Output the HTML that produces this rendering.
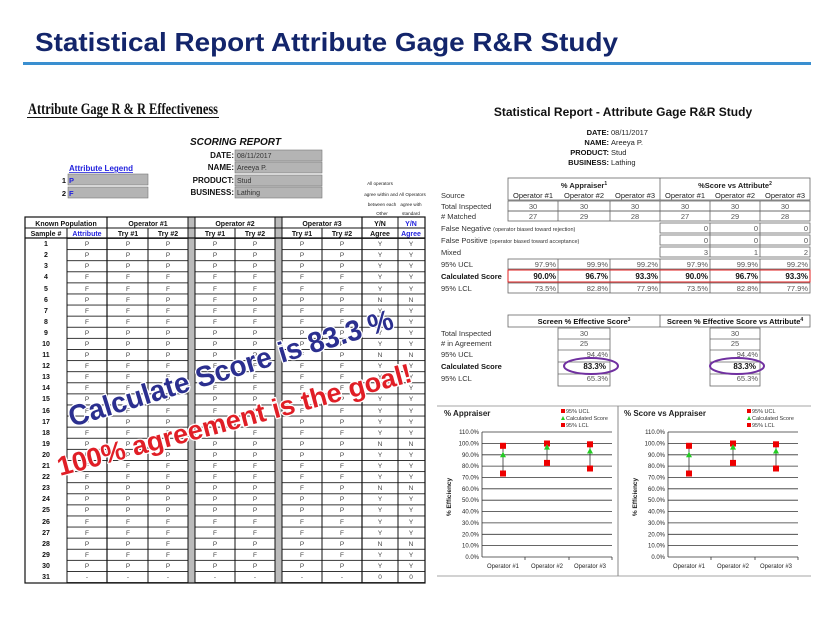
<!DOCTYPE html>
<html><head><meta charset="utf-8"><style>
html,body{margin:0;padding:0;background:#fff;}
svg{display:block;font-family:"Liberation Sans",sans-serif;}
</style></head><body>
<svg width="840" height="630" viewBox="0 0 840 630" xmlns="http://www.w3.org/2000/svg">
<defs>
<pattern id="hl" x="0" y="238" width="20" height="11.1" patternUnits="userSpaceOnUse"><rect x="0" y="0" width="20" height="0.9" fill="#222"/></pattern>
</defs>
<rect width="840" height="630" fill="#fff"/>
<!-- Title -->
<text x="35" y="51" font-size="26" font-weight="bold" fill="#13256b" textLength="583" lengthAdjust="spacingAndGlyphs">Statistical Report Attribute Gage R&amp;R Study</text>
<rect x="23" y="62" width="788" height="3" fill="#3a8fd0"/>

<!-- LEFT -->
<text x="28" y="114" font-family="Liberation Serif,serif" font-size="16" font-weight="bold" fill="#111" textLength="190" lengthAdjust="spacingAndGlyphs">Attribute Gage R &amp; R Effectiveness</text>
<rect x="27" y="117" width="192" height="1" fill="#111"/>
<text x="190" y="145" font-size="10" font-weight="bold" font-style="italic" fill="#111">SCORING REPORT</text>
<g font-size="8" font-weight="bold" fill="#111" text-anchor="end">
<text x="234" y="158">DATE:</text><text x="234" y="170">NAME:</text><text x="234" y="183">PRODUCT:</text><text x="234" y="195">BUSINESS:</text>
</g>
<g fill="#b4b4b4" stroke="#777" stroke-width="0.6">
<rect x="235" y="150" width="87" height="11"/><rect x="235" y="162" width="87" height="11"/><rect x="235" y="175" width="87" height="11"/><rect x="235" y="187" width="87" height="11"/>
<rect x="68" y="174" width="80" height="11"/><rect x="68" y="187" width="80" height="11"/>
</g>
<g font-size="7" fill="#333"><text x="237" y="158">08/11/2017</text><text x="237" y="170">Areeya P.</text><text x="237" y="183">Stud</text><text x="237" y="195">Lathing</text></g>
<text x="69" y="171" font-size="8" font-weight="bold" fill="#2222dd" text-decoration="underline">Attribute Legend</text>
<text x="66" y="183" font-size="7.5" font-weight="bold" fill="#111" text-anchor="end">1</text><text x="69" y="183" font-size="7.5" font-weight="bold" fill="#2222dd">P</text>
<text x="66" y="196" font-size="7.5" font-weight="bold" fill="#111" text-anchor="end">2</text><text x="69" y="196" font-size="7.5" font-weight="bold" fill="#2222dd">F</text>
<g font-size="4.6" fill="#222" text-anchor="middle">
<text x="380" y="185">All operators</text>
<text x="395" y="196">agree within and All Operators</text>
<text x="382" y="206">between each</text><text x="411" y="206">agree with</text>
<text x="382" y="215">Other</text><text x="411" y="215">standard</text>
</g>
<!-- table -->
<rect x="188" y="217" width="7" height="366" fill="#bbb"/>
<rect x="275" y="217" width="7" height="366" fill="#bbb"/>
<rect x="67" y="238" width="358" height="345" fill="url(#hl)"/>
<rect x="188" y="238" width="7" height="345" fill="#bbb"/><rect x="275" y="238" width="7" height="345" fill="#bbb"/>
<g stroke="#111" fill="none">
<rect x="25" y="217" width="400" height="366" stroke-width="1.2"/>
<line x1="25" y1="228" x2="425" y2="228" stroke-width="1"/>
<line x1="25" y1="238" x2="425" y2="238" stroke-width="1.2"/>
<line x1="67" y1="228" x2="67" y2="583"/>
<line x1="107" y1="217" x2="107" y2="583" stroke-width="1.2"/>
<line x1="148" y1="228" x2="148" y2="583"/>
<line x1="188" y1="217" x2="188" y2="583"/><line x1="195" y1="217" x2="195" y2="583"/>
<line x1="235" y1="228" x2="235" y2="583"/>
<line x1="275" y1="217" x2="275" y2="583"/><line x1="282" y1="217" x2="282" y2="583"/>
<line x1="322" y1="228" x2="322" y2="583"/>
<line x1="362" y1="217" x2="362" y2="583" stroke-width="1.2"/>
<line x1="398" y1="217" x2="398" y2="583"/>
</g>
<g font-size="7" font-weight="bold" fill="#111" text-anchor="middle">
<text x="66" y="226">Known Population</text><text x="148" y="226">Operator #1</text><text x="235" y="226">Operator #2</text><text x="322" y="226">Operator #3</text><text x="380" y="226">Y/N</text>
<text x="46" y="236">Sample #</text><text x="128" y="236">Try #1</text><text x="168" y="236">Try #2</text><text x="215" y="236">Try #1</text><text x="255" y="236">Try #2</text><text x="302" y="236">Try #1</text><text x="342" y="236">Try #2</text><text x="380" y="236">Agree</text>
</g>
<g font-size="7" font-weight="bold" fill="#2222dd" text-anchor="middle"><text x="87" y="236">Attribute</text><text x="411" y="226">Y/N</text><text x="411" y="236">Agree</text></g>
<g font-size="7" font-weight="bold" fill="#111" text-anchor="middle">
<text x="46" y="246">1</text><text x="46" y="257">2</text><text x="46" y="268">3</text><text x="46" y="279">4</text><text x="46" y="291">5</text><text x="46" y="302">6</text><text x="46" y="313">7</text><text x="46" y="324">8</text><text x="46" y="335">9</text><text x="46" y="346">10</text><text x="46" y="357">11</text><text x="46" y="368">12</text><text x="46" y="379">13</text><text x="46" y="390">14</text><text x="46" y="401">15</text><text x="46" y="413">16</text><text x="46" y="424">17</text><text x="46" y="435">18</text><text x="46" y="446">19</text><text x="46" y="457">20</text><text x="46" y="468">21</text><text x="46" y="479">22</text><text x="46" y="490">23</text><text x="46" y="501">24</text><text x="46" y="512">25</text><text x="46" y="524">26</text><text x="46" y="535">27</text><text x="46" y="546">28</text><text x="46" y="557">29</text><text x="46" y="568">30</text><text x="46" y="579">31</text>
</g>
<g font-size="6.5" fill="#444" text-anchor="middle">
<text x="87 128 168 215 255 302 342 380 411" y="246">PPPPPPPYY</text>
<text x="87 128 168 215 255 302 342 380 411" y="257">PPPPPPPYY</text>
<text x="87 128 168 215 255 302 342 380 411" y="268">PPPPPPPYY</text>
<text x="87 128 168 215 255 302 342 380 411" y="279">FFFFFFFYY</text>
<text x="87 128 168 215 255 302 342 380 411" y="291">FFFFFFFYY</text>
<text x="87 128 168 215 255 302 342 380 411" y="302">PFPFPPPNN</text>
<text x="87 128 168 215 255 302 342 380 411" y="313">FFFFFFFYY</text>
<text x="87 128 168 215 255 302 342 380 411" y="324">FFFFFFFYY</text>
<text x="87 128 168 215 255 302 342 380 411" y="335">PPPPPPPYY</text>
<text x="87 128 168 215 255 302 342 380 411" y="346">PPPPPPPYY</text>
<text x="87 128 168 215 255 302 342 380 411" y="357">PPPPPFPNN</text>
<text x="87 128 168 215 255 302 342 380 411" y="368">FFFFFFFYY</text>
<text x="87 128 168 215 255 302 342 380 411" y="379">FFFFFFFYY</text>
<text x="87 128 168 215 255 302 342 380 411" y="390">FFFFFFFYY</text>
<text x="87 128 168 215 255 302 342 380 411" y="401">PPPPPPPYY</text>
<text x="87 128 168 215 255 302 342 380 411" y="413">FFFFFFFYY</text>
<text x="87 128 168 215 255 302 342 380 411" y="424">PPPPPPPYY</text>
<text x="87 128 168 215 255 302 342 380 411" y="435">FFFFFFFYY</text>
<text x="87 128 168 215 255 302 342 380 411" y="446">PPPPPPPNN</text>
<text x="87 128 168 215 255 302 342 380 411" y="457">PPPPPPPYY</text>
<text x="87 128 168 215 255 302 342 380 411" y="468">FFFFFFFYY</text>
<text x="87 128 168 215 255 302 342 380 411" y="479">FFFFFFFYY</text>
<text x="87 128 168 215 255 302 342 380 411" y="490">PPPPPFPNN</text>
<text x="87 128 168 215 255 302 342 380 411" y="501">PPPPPPPYY</text>
<text x="87 128 168 215 255 302 342 380 411" y="512">PPPPPPPYY</text>
<text x="87 128 168 215 255 302 342 380 411" y="524">FFFFFFFYY</text>
<text x="87 128 168 215 255 302 342 380 411" y="535">FFFFFFFYY</text>
<text x="87 128 168 215 255 302 342 380 411" y="546">PPFPPPPNN</text>
<text x="87 128 168 215 255 302 342 380 411" y="557">FFFFFFFYY</text>
<text x="87 128 168 215 255 302 342 380 411" y="568">PPPPPPPYY</text>
<text x="87 128 168 215 255 302 342 380 411" y="579">-------00</text>
</g>

<!-- overlay -->
<g font-weight="bold" stroke="#fff" stroke-width="2.5" paint-order="stroke" stroke-linejoin="round">
<text x="0" y="0" font-size="29" fill="#2b2f8f" transform="translate(72,427) rotate(-17)" textLength="338" lengthAdjust="spacingAndGlyphs">Calculate Score is 83.3 %</text>
<text x="0" y="0" font-size="27" fill="#e01e26" transform="translate(60,476) rotate(-15)" textLength="366" lengthAdjust="spacingAndGlyphs">100% agreement is the goal!</text>
</g>

<!-- RIGHT stats -->
<text x="623" y="116" font-size="12" font-weight="bold" fill="#111" text-anchor="middle">Statistical Report - Attribute Gage R&amp;R Study</text>
<g font-size="7.5" font-weight="bold" fill="#111" text-anchor="end"><text x="609" y="135">DATE:</text><text x="609" y="145">NAME:</text><text x="609" y="155">PRODUCT:</text><text x="609" y="165">BUSINESS:</text></g>
<g font-size="7.5" fill="#222"><text x="611" y="135">08/11/2017</text><text x="611" y="145">Areeya P.</text><text x="611" y="155">Stud</text><text x="611" y="165">Lathing</text></g>
<g stroke="#666" stroke-width="0.8" fill="none">
<rect x="508" y="178" width="302" height="22"/><line x1="660" y1="178" x2="660" y2="200"/>
<rect x="508" y="201" width="302" height="10"/><rect x="508" y="211" width="302" height="10"/>
<rect x="660" y="223" width="150" height="10"/><rect x="660" y="235" width="150" height="10"/><rect x="660" y="247" width="150" height="10"/>
<rect x="508" y="259" width="302" height="10"/><rect x="508" y="283" width="302" height="10"/>
<line x1="558" y1="201" x2="558" y2="221"/><line x1="610" y1="201" x2="610" y2="221"/><line x1="660" y1="201" x2="660" y2="221"/><line x1="710" y1="201" x2="710" y2="221"/><line x1="760" y1="201" x2="760" y2="221"/>
<line x1="710" y1="223" x2="710" y2="257"/><line x1="760" y1="223" x2="760" y2="257"/>
<line x1="558" y1="259" x2="558" y2="293"/><line x1="610" y1="259" x2="610" y2="293"/><line x1="660" y1="259" x2="660" y2="293"/><line x1="710" y1="259" x2="710" y2="293"/><line x1="760" y1="259" x2="760" y2="293"/>
</g>
<rect x="508" y="270" width="302" height="12" fill="none" stroke="#e02020" stroke-width="1"/>
<g font-size="7.5" fill="#222" text-anchor="middle">
<text x="584" y="188" font-weight="bold">% Appraiser<tspan font-size="5" dy="-3">1</tspan></text>
<text x="735" y="188" font-weight="bold">%Score vs Attribute<tspan font-size="5" dy="-3">2</tspan></text>
<text x="533" y="198">Operator #1</text><text x="584" y="198">Operator #2</text><text x="635" y="198">Operator #3</text><text x="685" y="198">Operator #1</text><text x="735" y="198">Operator #2</text><text x="785" y="198">Operator #3</text>
</g>
<g font-size="7.5" fill="#555" text-anchor="middle">
<text x="533" y="209">30</text><text x="584" y="209">30</text><text x="635" y="209">30</text><text x="685" y="209">30</text><text x="735" y="209">30</text><text x="785" y="209">30</text>
<text x="533" y="219">27</text><text x="584" y="219">29</text><text x="635" y="219">28</text><text x="685" y="219">27</text><text x="735" y="219">29</text><text x="785" y="219">28</text>
</g>
<g font-size="7.5" fill="#555" text-anchor="end">
<text x="708" y="231">0</text><text x="758" y="231">0</text><text x="808" y="231">0</text>
<text x="708" y="243">0</text><text x="758" y="243">0</text><text x="808" y="243">0</text>
<text x="708" y="255">3</text><text x="758" y="255">1</text><text x="808" y="255">2</text>
<text x="556" y="267">97.9%</text><text x="608" y="267">99.9%</text><text x="658" y="267">99.2%</text><text x="708" y="267">97.9%</text><text x="758" y="267">99.9%</text><text x="808" y="267">99.2%</text>
<text x="556" y="291">73.5%</text><text x="608" y="291">82.8%</text><text x="658" y="291">77.9%</text><text x="708" y="291">73.5%</text><text x="758" y="291">82.8%</text><text x="808" y="291">77.9%</text>
</g>
<g font-size="8" font-weight="bold" fill="#111" text-anchor="end">
<text x="556" y="279">90.0%</text><text x="608" y="279">96.7%</text><text x="658" y="279">93.3%</text><text x="708" y="279">90.0%</text><text x="758" y="279">96.7%</text><text x="808" y="279">93.3%</text>
</g>
<g font-size="7.5" fill="#333">
<text x="441" y="198">Source</text><text x="441" y="209">Total Inspected</text><text x="441" y="219"># Matched</text>
<text x="441" y="231">False Negative <tspan font-size="5.5">(operator biased toward rejection)</tspan></text>
<text x="441" y="243">False Positive <tspan font-size="5.5"> (operator biased toward acceptance)</tspan></text>
<text x="441" y="255">Mixed</text><text x="441" y="267">95% UCL</text><text x="441" y="279" font-weight="bold" fill="#111">Calculated Score</text><text x="441" y="291">95% LCL</text>
</g>

<!-- Screen section -->
<g stroke="#666" stroke-width="0.8" fill="none">
<rect x="508" y="315" width="302" height="12"/><line x1="660" y1="315" x2="660" y2="327"/>
<rect x="558" y="328" width="52" height="58"/><rect x="710" y="328" width="50" height="58"/>
<line x1="558" y1="339" x2="610" y2="339"/><line x1="558" y1="350" x2="610" y2="350"/><line x1="558" y1="362" x2="610" y2="362"/><line x1="558" y1="374" x2="610" y2="374"/>
<line x1="710" y1="339" x2="760" y2="339"/><line x1="710" y1="350" x2="760" y2="350"/><line x1="710" y1="362" x2="760" y2="362"/><line x1="710" y1="374" x2="760" y2="374"/>
</g>
<g font-size="7.5" font-weight="bold" fill="#111" text-anchor="middle">
<text x="584" y="324">Screen % Effective Score<tspan font-size="5" dy="-3">3</tspan></text>
<text x="735" y="324">Screen % Effective Score vs Attribute<tspan font-size="5" dy="-3">4</tspan></text>
</g>
<g font-size="7.5" fill="#333">
<text x="441" y="336">Total Inspected</text><text x="441" y="346"># in Agreement</text><text x="441" y="357">95% UCL</text><text x="441" y="369" font-weight="bold" fill="#111">Calculated Score</text><text x="441" y="381">95% LCL</text>
</g>
<g font-size="7.5" fill="#555" text-anchor="middle"><text x="584" y="336">30</text><text x="584" y="346">25</text><text x="735" y="336">30</text><text x="735" y="346">25</text></g>
<g font-size="7.5" fill="#555" text-anchor="end"><text x="608" y="357">94.4%</text><text x="608" y="381">65.3%</text><text x="758" y="357">94.4%</text><text x="758" y="381">65.3%</text></g>
<g font-size="8" font-weight="bold" fill="#111" text-anchor="end"><text x="606" y="369">83.3%</text><text x="756" y="369">83.3%</text></g>
<ellipse cx="591" cy="366" rx="27" ry="8" fill="none" stroke="#7030a0" stroke-width="2"/>
<ellipse cx="737" cy="366" rx="27" ry="8" fill="none" stroke="#7030a0" stroke-width="2"/>

<!-- Charts -->
<line x1="437" y1="406" x2="811" y2="406" stroke="#888" stroke-width="0.8"/>
<line x1="437" y1="576" x2="811" y2="576" stroke="#888" stroke-width="0.8"/>
<line x1="618" y1="406" x2="618" y2="576" stroke="#888" stroke-width="1"/>
<g id="c1">
<text x="444" y="416" font-size="8" font-weight="bold" fill="#222">% Appraiser</text>
<g font-size="5.5" fill="#333"><rect x="561" y="409" width="4" height="4" fill="#e00"/><text x="566" y="413">95% UCL</text>
<polygon points="563,416 561,420 565,420" fill="#2c2"/><text x="566" y="420">Calculated Score</text>
<rect x="561" y="423" width="4" height="4" fill="#e00"/><text x="566" y="427">95% LCL</text></g>
<g stroke="#333" stroke-width="0.8">
<line x1="482" y1="432" x2="612" y2="432"/><line x1="482" y1="443.4" x2="612" y2="443.4"/><line x1="482" y1="454.8" x2="612" y2="454.8"/><line x1="482" y1="466.1" x2="612" y2="466.1"/><line x1="482" y1="477.5" x2="612" y2="477.5"/><line x1="482" y1="488.8" x2="612" y2="488.8"/><line x1="482" y1="500.2" x2="612" y2="500.2"/><line x1="482" y1="511.5" x2="612" y2="511.5"/><line x1="482" y1="522.9" x2="612" y2="522.9"/><line x1="482" y1="534.3" x2="612" y2="534.3"/><line x1="482" y1="545.6" x2="612" y2="545.6"/><line x1="482" y1="557" x2="612" y2="557"/>
<line x1="482" y1="432" x2="482" y2="557"/>
<line x1="525" y1="557" x2="525" y2="560"/><line x1="569" y1="557" x2="569" y2="560"/><line x1="612" y1="557" x2="612" y2="560"/>
<line x1="503" y1="445.8" x2="503" y2="473.5"/><line x1="547" y1="443.5" x2="547" y2="462.9"/><line x1="590" y1="444.3" x2="590" y2="468.5"/>
</g>
<g font-size="6" fill="#222" text-anchor="end">
<text x="479" y="434">110.0%</text><text x="479" y="445.4">100.0%</text><text x="479" y="456.8">90.0%</text><text x="479" y="468.1">80.0%</text><text x="479" y="479.5">70.0%</text><text x="479" y="490.8">60.0%</text><text x="479" y="502.2">50.0%</text><text x="479" y="513.5">40.0%</text><text x="479" y="524.9">30.0%</text><text x="479" y="536.3">20.0%</text><text x="479" y="547.6">10.0%</text><text x="479" y="559">0.0%</text>
</g>
<g font-size="6" fill="#222" text-anchor="middle"><text x="503" y="568">Operator #1</text><text x="547" y="568">Operator #2</text><text x="590" y="568">Operator #3</text></g>
<text transform="translate(451,497) rotate(-90)" font-size="6.5" font-weight="bold" fill="#222" text-anchor="middle">% Efficiency</text>
<g fill="#e00">
<rect x="500" y="442.8" width="6" height="6"/><rect x="500" y="470.5" width="6" height="6"/>
<rect x="544" y="440.5" width="6" height="6"/><rect x="544" y="459.9" width="6" height="6"/>
<rect x="587" y="441.3" width="6" height="6"/><rect x="587" y="465.5" width="6" height="6"/>
</g>
<g fill="#2c2">
<polygon points="503,451.8 500,457.3 506,457.3"/><polygon points="547,444.1 544,449.6 550,449.6"/><polygon points="590,448 587,453.5 593,453.5"/>
</g>
</g>
<use href="#c1" transform="translate(186,0)"/>
<rect x="626" y="408" width="60" height="12" fill="#fff"/>
<text x="624" y="416" font-size="8" font-weight="bold" fill="#222">% Score vs Appraiser</text>
</svg>
</body></html>
